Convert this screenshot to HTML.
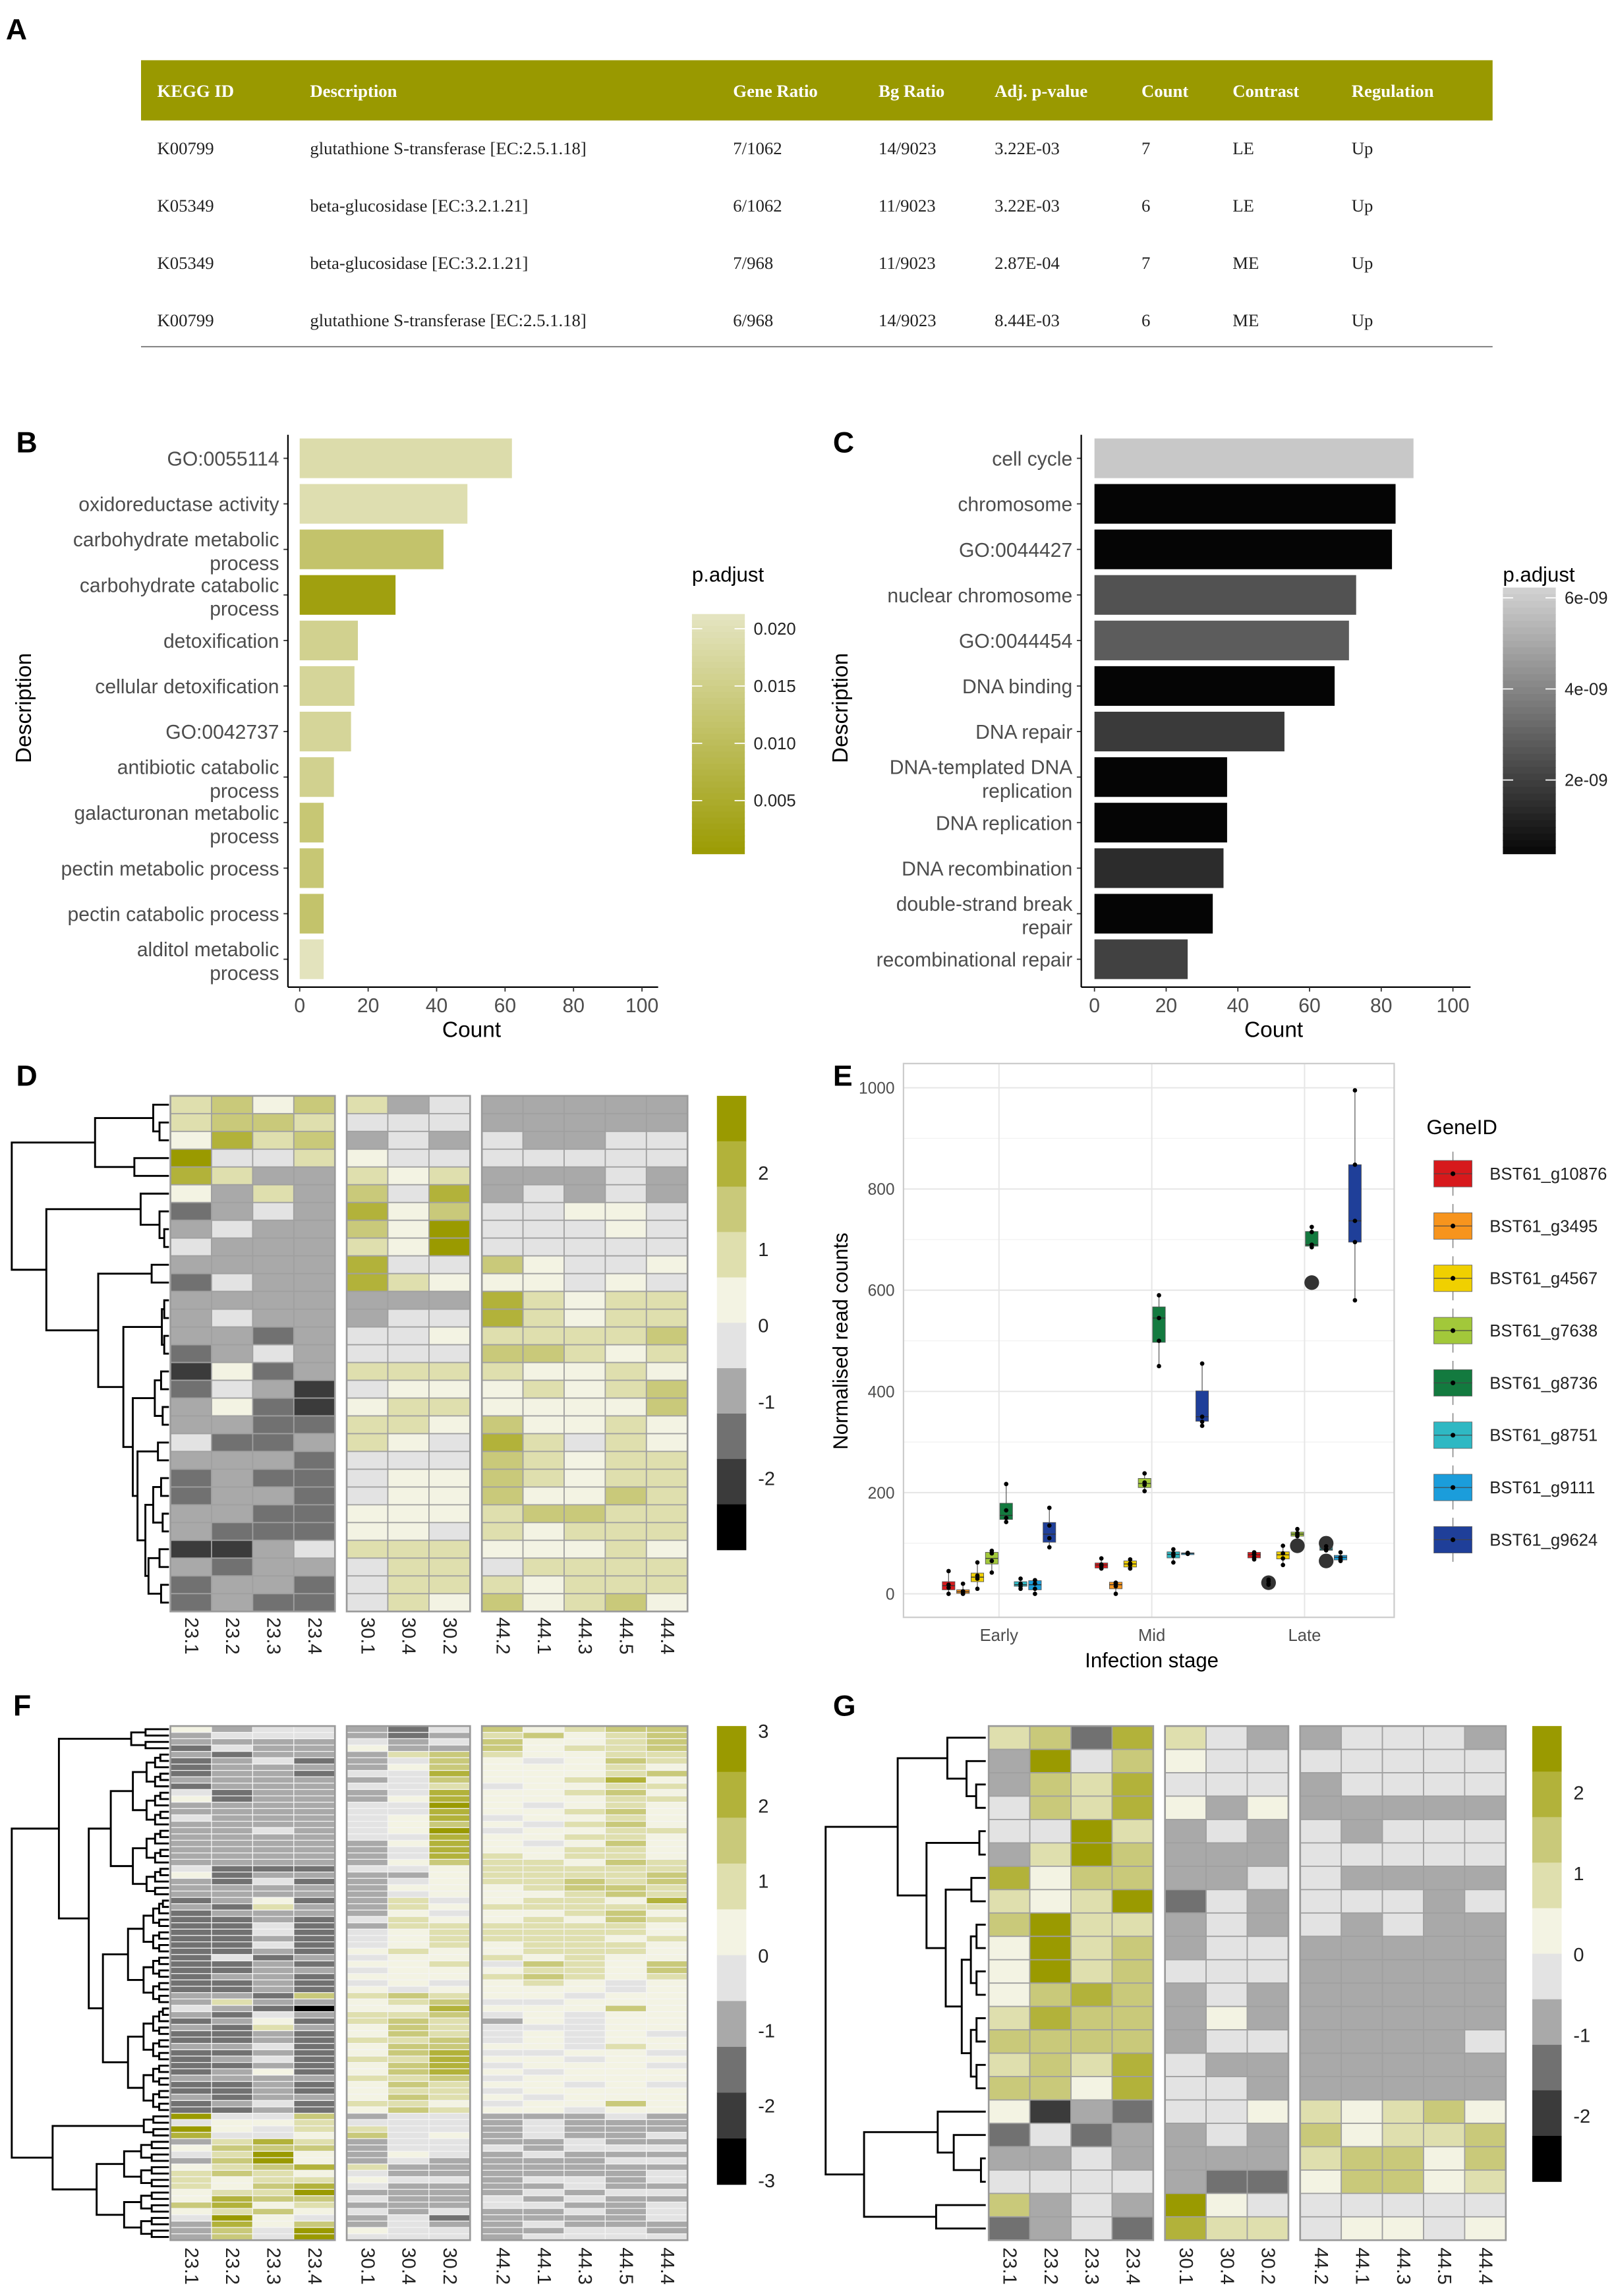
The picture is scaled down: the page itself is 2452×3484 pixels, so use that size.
<!DOCTYPE html>
<html><head><meta charset="utf-8"><title>Figure</title>
<style>
html,body{margin:0;padding:0;background:#fff;}
svg{display:block;}
text{font-family:"Liberation Sans",Arial,sans-serif;}
.serif{font-family:"Liberation Serif","Times New Roman",serif;}
</style></head>
<body>
<svg id="fig" xmlns="http://www.w3.org/2000/svg" width="2452" height="3484" viewBox="0 0 1100 1563" preserveAspectRatio="none">
<rect x="0" y="0" width="1100" height="1563" fill="#fff"/>
<!-- Panel letters -->
<text x="4" y="27" font-size="20" font-weight="bold">A</text>
<text x="11" y="308" font-size="20" font-weight="bold">B</text>
<text x="567" y="308" font-size="20" font-weight="bold">C</text>
<text x="11" y="739" font-size="20" font-weight="bold">D</text>
<text x="567" y="739" font-size="20" font-weight="bold">E</text>
<text x="9" y="1168" font-size="20" font-weight="bold">F</text>
<text x="567" y="1168" font-size="20" font-weight="bold">G</text>

<!-- Panel A table -->
<g class="serif" font-size="12">
<rect x="96" y="41" width="920" height="41" fill="#999900"/>
<g fill="#fff" font-weight="bold" class="serif">
<text class="serif" x="107" y="66">KEGG ID</text>
<text class="serif" x="211" y="66">Description</text>
<text class="serif" x="499" y="66">Gene Ratio</text>
<text class="serif" x="598" y="66">Bg Ratio</text>
<text class="serif" x="677" y="66">Adj. p-value</text>
<text class="serif" x="777" y="66">Count</text>
<text class="serif" x="839" y="66">Contrast</text>
<text class="serif" x="920" y="66">Regulation</text>
</g>
<g fill="#222">
<g><text class="serif" x="107" y="105">K00799</text><text class="serif" x="211" y="105">glutathione S-transferase [EC:2.5.1.18]</text><text class="serif" x="499" y="105">7/1062</text><text class="serif" x="598" y="105">14/9023</text><text class="serif" x="677" y="105">3.22E-03</text><text class="serif" x="777" y="105">7</text><text class="serif" x="839" y="105">LE</text><text class="serif" x="920" y="105">Up</text></g>
<g><text class="serif" x="107" y="144">K05349</text><text class="serif" x="211" y="144">beta-glucosidase [EC:3.2.1.21]</text><text class="serif" x="499" y="144">6/1062</text><text class="serif" x="598" y="144">11/9023</text><text class="serif" x="677" y="144">3.22E-03</text><text class="serif" x="777" y="144">6</text><text class="serif" x="839" y="144">LE</text><text class="serif" x="920" y="144">Up</text></g>
<g><text class="serif" x="107" y="183">K05349</text><text class="serif" x="211" y="183">beta-glucosidase [EC:3.2.1.21]</text><text class="serif" x="499" y="183">7/968</text><text class="serif" x="598" y="183">11/9023</text><text class="serif" x="677" y="183">2.87E-04</text><text class="serif" x="777" y="183">7</text><text class="serif" x="839" y="183">ME</text><text class="serif" x="920" y="183">Up</text></g>
<g><text class="serif" x="107" y="222">K00799</text><text class="serif" x="211" y="222">glutathione S-transferase [EC:2.5.1.18]</text><text class="serif" x="499" y="222">6/968</text><text class="serif" x="598" y="222">14/9023</text><text class="serif" x="677" y="222">8.44E-03</text><text class="serif" x="777" y="222">6</text><text class="serif" x="839" y="222">ME</text><text class="serif" x="920" y="222">Up</text></g>
</g>
<line x1="96" y1="236" x2="1016" y2="236" stroke="#888" stroke-width="1"/>
</g>
</svg>

<script>
// ---------- Panel B data ----------
const bTerms = ['GO:0055114','oxidoreductase activity','carbohydrate metabolic|process','carbohydrate catabolic|process','detoxification','cellular detoxification','GO:0042737','antibiotic catabolic|process','galacturonan metabolic|process','pectin metabolic process','pectin catabolic process','alditol metabolic|process'];
const bCounts = [62,49,42,28,17,16,15,10,7,7,7,7];
const bPadj = [0.019,0.0195,0.012,0.002,0.016,0.017,0.017,0.016,0.013,0.013,0.012,0.021];
const bTicks = [0,20,40,60,80,100];
const bLegendTicks = [0.020,0.015,0.010,0.005];
// ---------- Panel C data ----------
const cTerms = ['cell cycle','chromosome','GO:0044427','nuclear chromosome','GO:0044454','DNA binding','DNA repair','DNA-templated DNA|replication','DNA replication','DNA recombination','double-strand break|repair','recombinational repair'];
const cCounts = [89,84,83,73,71,67,53,37,37,36,33,26];
const cPadj = [6.0,0.3,0.4,2.6,2.9,0.3,1.9,0.3,0.3,1.5,0.3,2.1]; // x 1e-09
const cTicks = [0,20,40,60,80,100];
const cLegendTicks = [6,4,2];
const cLegendLabels = ['6e-09','4e-09','2e-09'];
// ---------- Panel E data ----------
const eStages = ['Early','Mid','Late'];
const eGenes = ['BST61_g10876','BST61_g3495','BST61_g4567','BST61_g7638','BST61_g8736','BST61_g8751','BST61_g9111','BST61_g9624'];
const eYTicks = [0,200,400,600,800,1000];
const eQ1 = [[8,1,24,59,147,15,8,102],[51,10,53,210,497,71,79,341],[71,18,69,114,687,86,67,695]];
const eMed = [[16,4,33,70,155,18,18,118],[57,18,59,218,545,78,80,350],[77,22,77,118,690,88,72,737]];
const eQ3 = [[24,8,41,82,179,24,26,141],[61,23,65,228,567,83,81,401],[82,27,83,122,716,94,76,848]];
const ePts = [
 [[45,18,12,0],[20,5,2,0],[62,36,30,10],[85,80,65,42],[217,165,150,142],[30,20,15,10],[27,20,10,0],[170,135,110,92]],
 [[70,58,55,50],[22,20,15,0],[68,60,57,50],[238,220,215,203],[590,545,500,450],[88,80,75,62],[81,80,80,79],[455,350,340,332]],
 [[82,78,72,68],[28,25,20,18],[95,80,70,57],[128,120,116,114],[725,715,690,685],[94,88,86],[82,72,68,65],[995,848,737,695,580]]
];
const eOut = [
 [[],[],[],[],[],[],[],[]],
 [[],[],[],[],[],[],[],[]],
 [[],[22],[],[95],[615],[100,65],[],[]]
];
// ---------- Heatmap data (digits 0..9 = colour-key bins, 9 = highest) ----------
const colLabels = ['23.1','23.2','23.3','23.4','30.1','30.4','30.2','44.2','44.1','44.3','44.5','44.4'];
const dRows = ["675763433333","677644433333","586734343344","944654444444","863365633343","536374834343","234385744554","343375944454","433365944444","333384475445","243386555454","333333386566","343334486566","332344566667","234344477656","152366665565","243145556567","352156655557","332266575565","422365486465","333244476566","232245576566","233245575576","332255567766","322255465666","113466655565","323346646666","233246665666","232246575675"];
const fRows = ["534432475677","344432367567","333343475567","243353375667","323336765566","234234754576","233335755565","233244855567","333334755685","233344645566","423334855675","523335855566","333344954565","333344855675","433345845565","333345754675","334345945566","333344855665","333335854575","333334855665","333334865665","333335766576","422244566666","523333566667","324234566767","333335556776","333334555676","235236456658","326336566666","233335455675","223246556576","224236666665","224245666665","223245666656","224245656665","223256556665","242345565655","223255647657","223345556657","233255567656","223245456545","223254555545","332767655455","363356744555","432055855575","324366745455","235267635455","326357644455","223257645454","223266745455","334257755465","223257844554","234266855455","223257845554","235257854555","333366745555","223257655454","223256645555","323357654555","234266545575","223257655455","944734433343","455644434333","954664434333","844574534334","368634433433","577734443444","469535434333","379534333344","567863333333","676543333334","656654434434","657843333433","566933334344","587743343433","785633344334","567543433434","495434233334","385734334333","374954433443","374944434444"];
const gRows = ["672864334443","394754444444","376844434444","476853533333","449634343444","369733344444","857733443333","656924344434","796634343433","596734433333","596744433333","578734333333","687735333333","777734433334","676843333333","775844333333","513244565675","242334375667","334333367757","444432257756","734395444444","234286645545"];
const dKeyLabels = ['2','1','0','-1','-2'];
const fKeyLabels = ['3','2','1','0','-1','-2','-3'];
const gKeyLabels = ['2','1','0','-1','-2'];
// dendrogram trees [height, left, right]; leaves are row indices
const dTree = [1,
  [0.47, [0.10, 0, [0.06, 1, 2]], [0.22, 3, 4]],
  [0.78,
    [0.18, 5, [0.06, 6, [0.03, 7, 8]]],
    [0.45,
      [0.11, 9, 10],
      [0.29,
        [0.045, [0.03, 11, 12], [0.03, 13, 14]],
        [0.23,
          [0.09, [0.05, 15, 16], [0.04, 17, 18]],
          [0.2, [0.07, 19, 20], [0.15, [0.1, [0.05, 21, 22], [0.04, 23, 24]], [0.13, [0.06, 25, 26], [0.05, 27, 28]]]]
        ]
      ]
    ]
  ]
];
function rng(a, b, h) { if (a === b) return a; const m = Math.floor((a + b) / 2); return [h, rng(a, m, h * 0.62), rng(m + 1, b, h * 0.62)]; }
const fTree = [1,
  [0.70, rng(0, 3, 0.24), [0.51, rng(4, 26, 0.37), rng(27, 60, 0.42)]],
  [0.74, rng(61, 64, 0.16), rng(65, 80, 0.46)]
];
const gTree = [1,
  [0.55, [0.24, 0, [0.12, 1, [0.06, 2, 3]]], [0.37, [0.04, 4, 5], [0.25, [0.09, 6, 7], rng(8, 15, 0.15)]]],
  [0.76, [0.30, 16, [0.2, 17, [0.03, 18, 19]]], [0.31, 20, 21]]
];

// ---------- helpers ----------
const NS = 'http://www.w3.org/2000/svg';
const svg = document.getElementById('fig');
function mk(tag, attrs, parent) { const e = document.createElementNS(NS, tag); for (const k in attrs) e.setAttribute(k, attrs[k]); (parent || svg).appendChild(e); return e; }
function txt(s, attrs, parent) { const e = mk('text', attrs, parent); e.textContent = s; return e; }
function hex(c) { return [parseInt(c.substr(1,2),16), parseInt(c.substr(3,2),16), parseInt(c.substr(5,2),16)]; }
function lerp(c1, c2, t) { const a = hex(c1), b = hex(c2); t = Math.max(0, Math.min(1, t)); return 'rgb(' + a.map((v, i) => Math.round(v + (b[i] - v) * t)).join(',') + ')'; }
const binColors = ['#9a9a00','#b2b23a','#c9c97a','#dfdfae','#f3f3e3','#e3e3e3','#a9a9a9','#717171','#3b3b3b','#000000'];
function binColor(d) { return binColors[9 - d]; }

// ---------- bar chart builder ----------
function barPanel(o) {
  const g = mk('g', {});
  
  
  const xS = v => o.x0 + v * o.k;
  const yC = i => 312 + i * 31;
  o.terms.forEach((t, i) => {
    const r = mk('rect', { x: xS(0), y: yC(i) - 13.5, width: xS(o.counts[i]) - xS(0), height: 27, fill: o.color(o.padj[i]) }, g);
    
    
    const parts = t.split('|');
    const lab = txt('', { x: o.axisX - 6, 'text-anchor': 'end', 'font-size': 13.5, fill: '#4d4d4d' }, g);
    
    
    if (parts.length === 1) { lab.setAttribute('y', yC(i) + 5); lab.textContent = parts[0]; }
    else { parts.forEach((p, j) => { const ts = mk('tspan', { x: o.axisX - 6, y: yC(i) - 2 + j * 16 }, lab); ts.textContent = p; }); }
    mk('line', { x1: o.axisX - 3, x2: o.axisX, y1: yC(i), y2: yC(i), stroke: '#333', 'stroke-width': 0.8 }, g);
  });
  const ya = mk('line', { x1: o.axisX, x2: o.axisX, y1: 296, y2: 672, stroke: '#000', 'stroke-width': 1 }, g);
  
  
  const xa = mk('line', { x1: o.axisX, x2: o.axisEnd, y1: 672, y2: 672, stroke: '#000', 'stroke-width': 1 }, g);
  
  
  o.ticks.forEach(v => {
    mk('line', { x1: xS(v), x2: xS(v), y1: 672, y2: 675, stroke: '#333', 'stroke-width': 0.8 }, g);
    const tl = txt(String(v), { x: xS(v), y: 689, 'text-anchor': 'middle', 'font-size': 13.5, fill: '#4d4d4d' }, g);
    
    
  });
  const xt = txt('Count', { x: o.countX, y: 706, 'text-anchor': 'middle', 'font-size': 15, fill: '#000' }, g);
  
  
  const yt = txt('Description', { x: 0, y: 0, 'text-anchor': 'middle', 'font-size': 15, fill: '#000', transform: 'translate(' + o.descX + ',482) rotate(-90)' }, g);
  
  
  return g;
}

// Panel B
const bTop = 0.02128, bBot = 0.0004;
const bColor = p => lerp('#9a9a00', '#e4e4c0', (p - bBot) / (bTop - bBot));
const gB = barPanel({ name: 'go-barplot-b', terms: bTerms, counts: bCounts, padj: bPadj, ticks: bTicks, x0: 204, k: 2.33, axisX: 196, axisEnd: 448, countX: 321, descX: 21, color: bColor });
(function () {
  const lg = mk('g', {}, gB);
  
  
  const tt = txt('p.adjust', { x: 471, y: 396, 'font-size': 14, fill: '#000' }, lg);
  
  
  for (let i = 0; i < 40; i++) {
    const y = 418 + i * (163 / 40);
    const p = bTop - (y - 418) / 163 * (bTop - bBot);
    mk('rect', { x: 471, y: y, width: 36, height: 163 / 40 + 0.5, fill: bColor(p) }, lg);
  }
  const yP = p => 428 + (0.020 - p) / 0.005 * 39;
  bLegendTicks.forEach(p => {
    mk('line', { x1: 471, x2: 478, y1: yP(p), y2: yP(p), stroke: '#fff', 'stroke-width': 0.8 }, lg);
    mk('line', { x1: 500, x2: 507, y1: yP(p), y2: yP(p), stroke: '#fff', 'stroke-width': 0.8 }, lg);
    const l = txt(p.toFixed(3), { x: 513, y: yP(p) + 4, 'font-size': 11.5, fill: '#222' }, lg);
    
    
  });
})();

// Panel C
const cTopV = 6.45, cBotV = 0.39;
const cColor = v => lerp('#050505', '#d8d8d8', (v - cBotV) / (cTopV - cBotV));
const gC = barPanel({ name: 'go-barplot-c', terms: cTerms, counts: cCounts, padj: cPadj, ticks: cTicks, x0: 745, k: 2.44, axisX: 736, axisEnd: 1001, countX: 867, descX: 577, color: cColor });
(function () {
  const lg = mk('g', {}, gC);
  
  
  const tt = txt('p.adjust', { x: 1023, y: 396, 'font-size': 14, fill: '#000' }, lg);
  
  
  for (let i = 0; i < 40; i++) {
    const y = 400 + i * (181 / 40);
    const v = cTopV - (y - 393) / 188 * (cTopV - cBotV);
    mk('rect', { x: 1023, y: y, width: 36, height: 181 / 40 + 0.5, fill: cColor(v) }, lg);
  }
  const yV = v => 407 + (6 - v) * 31;
  cLegendTicks.forEach((v, i) => {
    mk('line', { x1: 1023, x2: 1030, y1: yV(v), y2: yV(v), stroke: '#fff', 'stroke-width': 0.8 }, lg);
    mk('line', { x1: 1052, x2: 1059, y1: yV(v), y2: yV(v), stroke: '#fff', 'stroke-width': 0.8 }, lg);
    const l = txt(cLegendLabels[i], { x: 1065, y: yV(v) + 4, 'font-size': 11.5, fill: '#222' }, lg);
    
    
  });
})();

// ---------- heatmaps ----------
function heatmap(o) {
  const g = mk('g', {});
  
  
  const groups = [4, 3, 5];
  const colW = 28;
  const rowH = (o.y1 - o.y0) / o.rows.length;
  const colX = [];
  groups.forEach((n, gi) => { for (let j = 0; j < n; j++) colX.push(o.gx[gi] + j * colW); });
  o.rows.forEach((row, r) => {
    for (let c = 0; c < 12; c++) {
      const d = parseInt(row[c], 10);
      const cell = mk('rect', { x: colX[c], y: o.y0 + r * rowH, width: colW, height: rowH, fill: binColor(d), stroke: o.cellStroke, 'stroke-width': o.cellSW }, g);
      
      
    }
  });
  groups.forEach((n, gi) => {
    const b = mk('rect', { x: o.gx[gi], y: o.y0, width: n * colW, height: o.y1 - o.y0, fill: 'none', stroke: '#9a9a9a', 'stroke-width': 1.2 }, g);
    
    
  });
  colLabels.forEach((l, c) => {
    const cx = colX[c] + colW / 2;
    const t = txt(l, { x: cx, y: o.labY, 'font-size': 13, fill: '#222', 'text-anchor': 'start', 'dominant-baseline': 'central', transform: 'rotate(90 ' + cx + ' ' + o.labY + ')' }, g);
    
    
  });
  // dendrogram
  const dg = mk('g', { stroke: '#000', 'stroke-width': 1.3, fill: 'none' }, g);
  
  
  function draw(node) {
    if (typeof node === 'number') return { x: o.xLeaf, y: o.y0 + (node + 0.5) * rowH };
    const a = draw(node[1]), b = draw(node[2]);
    const x = o.xLeaf - node[0] * (o.xLeaf - o.xRoot);
    mk('path', { d: 'M' + a.x + ' ' + a.y + 'H' + x + 'V' + b.y + 'H' + b.x }, dg);
    return { x: x, y: (a.y + b.y) / 2 };
  }
  draw(o.tree);
  // colour key
  const kg = mk('g', {}, g);
  
  
  const bh = (o.k1 - o.k0) / 10;
  binColors.forEach((col, i) => mk('rect', { x: o.kx, y: o.k0 + i * bh, width: 20, height: bh + 0.3, fill: col }, kg));
  o.keyLabels.forEach((l, i) => {
    const t = txt(l, { x: o.kx + 28, y: o.kLab0 + i * o.kLabStep + 5, 'font-size': 13, fill: '#222' }, kg);
    
    
  });
  return g;
}
heatmap({ name: 'heatmap-d', rows: dRows, gx: [116, 236, 328], y0: 746, y1: 1097, labY: 1101, cellStroke: '#a0a0a0', cellSW: 0.8, tree: dTree, xLeaf: 115, xRoot: 8, kx: 488, k0: 746, k1: 1055, keyLabels: dKeyLabels, kLab0: 798, kLabStep: 52 });
heatmap({ name: 'heatmap-f', rows: fRows, gx: [116, 236, 328], y0: 1175, y1: 1525, labY: 1530, cellStroke: '#f4f4f4', cellSW: 0.55, tree: fTree, xLeaf: 115, xRoot: 8, kx: 488, k0: 1175, k1: 1487, keyLabels: fKeyLabels, kLab0: 1178, kLabStep: 51 });
heatmap({ name: 'heatmap-g', rows: gRows, gx: [673, 793, 885], y0: 1175, y1: 1525, labY: 1530, cellStroke: '#a0a0a0', cellSW: 0.8, tree: gTree, xLeaf: 671, xRoot: 562, kx: 1043, k0: 1175, k1: 1485, keyLabels: gKeyLabels, kLab0: 1220, kLabStep: 55 });

// ---------- Panel E boxplot ----------
(function () {
  const geneColors = ['#d7191c','#f7941d','#f0d000','#a2c83a','#137a3f','#2fb8c3','#1b9ddb','#1f3f99'];
  const g = mk('g', {});
  
  
  const px0 = 615, px1 = 949, py0 = 724, py1 = 1101;
  const yS = v => 1085 - v * 0.3445;
  const xS = (s, i) => 680 + s * 104 + (i - 3.5) * 9.8;
  mk('rect', { x: px0, y: py0, width: px1 - px0, height: py1 - py0, fill: '#fff' }, g);
  for (let v = 100; v <= 1000; v += 200) mk('line', { x1: px0, x2: px1, y1: yS(v), y2: yS(v), stroke: '#f2f2f2', 'stroke-width': 0.6 }, g);
  eYTicks.forEach(v => {
    mk('line', { x1: px0, x2: px1, y1: yS(v), y2: yS(v), stroke: '#e6e6e6', 'stroke-width': 0.9 }, g);
    const t = txt(String(v), { x: 609, y: yS(v) + 4, 'text-anchor': 'end', 'font-size': 11, fill: '#4d4d4d' }, g);
    
    
  });
  eStages.forEach((s, si) => {
    const x = 680 + si * 104;
    mk('line', { x1: x, x2: x, y1: py0, y2: py1, stroke: '#e6e6e6', 'stroke-width': 0.9 }, g);
    const t = txt(s, { x: x, y: 1117, 'text-anchor': 'middle', 'font-size': 11.5, fill: '#4d4d4d' }, g);
    
    
  });
  const fr = mk('rect', { x: px0, y: py0, width: px1 - px0, height: py1 - py0, fill: 'none', stroke: '#cccccc', 'stroke-width': 1 }, g);
  
  
  eStages.forEach((s, si) => {
    eGenes.forEach((gn, gi) => {
      const bg = mk('g', {}, g);
      
      
      const x = xS(si, gi);
      const pts = ePts[si][gi];
      const lo = Math.min.apply(null, pts), hi = Math.max.apply(null, pts);
      mk('line', { x1: x, x2: x, y1: yS(hi), y2: yS(lo), stroke: '#666', 'stroke-width': 0.6 }, bg);
      mk('rect', { x: x - 4.3, y: yS(eQ3[si][gi]), width: 8.6, height: Math.max(1.2, yS(eQ1[si][gi]) - yS(eQ3[si][gi])), fill: geneColors[gi], stroke: '#555', 'stroke-width': 0.4 }, bg);
      mk('line', { x1: x - 4.3, x2: x + 4.3, y1: yS(eMed[si][gi]), y2: yS(eMed[si][gi]), stroke: '#333', 'stroke-width': 0.6 }, bg);
      eOut[si][gi].forEach(v => mk('circle', { cx: x, cy: yS(v), r: 5, fill: '#333' }, bg));
      pts.forEach(v => mk('circle', { cx: x, cy: yS(v), r: 1.5, fill: '#000' }, bg));
    });
  });
  const xt = txt('Infection stage', { x: 784, y: 1135, 'text-anchor': 'middle', 'font-size': 14, fill: '#000' }, g);
  
  
  const yt = txt('Normalised read counts', { x: 0, y: 0, 'text-anchor': 'middle', 'font-size': 14, fill: '#000', transform: 'translate(577,913) rotate(-90)' }, g);
  
  
  const lt = txt('GeneID', { x: 971, y: 772, 'font-size': 14, fill: '#000' }, g);
  
  
  eGenes.forEach((gn, i) => {
    const y = 799 + i * 35.6;
    const le = mk('g', {}, g);
    
    
    mk('line', { x1: 989, x2: 989, y1: y - 15, y2: y + 15, stroke: '#777', 'stroke-width': 0.6 }, le);
    mk('rect', { x: 976, y: y - 9, width: 26, height: 18, fill: geneColors[i], stroke: '#666', 'stroke-width': 0.4 }, le);
    mk('line', { x1: 976, x2: 1002, y1: y, y2: y, stroke: '#444', 'stroke-width': 0.5 }, le);
    mk('circle', { cx: 989, cy: y, r: 1.6, fill: '#000' }, le);
    txt(gn, { x: 1014, y: y + 4, 'font-size': 11.5, fill: '#222' }, le);
  });
})();
</script>
</body></html>
